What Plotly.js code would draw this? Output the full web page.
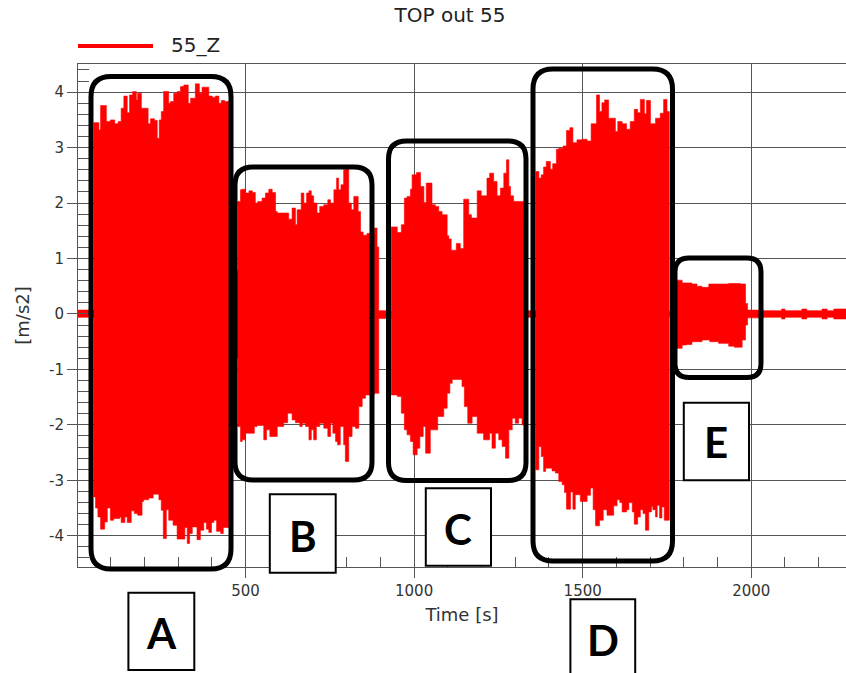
<!DOCTYPE html>
<html><head><meta charset="utf-8">
<script src="https://cdn.plot.ly/plotly-3.0.1.min.js"></script>
<style>html,body{margin:0;padding:0;background:#fff;}#chart{width:846px;height:673px;}</style>
</head><body><div id="chart"></div>
<script>
// ---- data ----
// upper envelope of the 55_Z acceleration signal: time [s] and value [m/s2] (step values)
const upperTime = [0,50,65,70,87,99,112,122,131,139,149,156,165,176,180,191,211,218,230,238,244,250,257,272,277,287,297,307,317,330,337,351,363,371,391,401,411,421,428,438,452,
470,477,485,490,500,510,520,529,536,549,559,569,579,589,594,628,638,648,653,665,673,681,688,695,702,712,720,732,744,752,762,770,776,783,791,798,806,814,821,834,841,849,860,882,890,895,
932,950,962,971,979,989,994,1007,1019,1029,1036,1053,1063,1073,1083,1098,1103,1110,1125,1137,1147,1162,1170,1187,1199,1216,1224,1236,1246,1256,1266,1274,1281,1286,1295,1325,1335,
1361,1370,1377,1384,1392,1404,1411,1422,1429,1442,1452,1462,1471,1483,1498,1513,1525,1541,1550,1557,1565,1577,1597,1604,1617,1630,1641,1653,1663,1671,1683,1689,1701,1716,1730,1740,1750,1757,
1778,1795,1824,1839,1854,1874,1933,1968,1983,1989,2025,2035,2090,2100,2150,2165,2210,2225,2245,2282];
const upperAccel = [0.07,3.45,3.32,3.76,3.47,3.50,3.43,3.47,3.71,3.93,3.63,3.95,4.01,3.86,3.98,3.71,3.43,3.52,3.49,3.17,3.50,3.65,4.01,3.80,3.83,3.98,4.01,4.10,4.13,3.80,3.89,4.15,3.98,4.09,3.93,3.91,3.93,3.80,3.85,3.83,0.06,
0.79,2.03,2.24,2.25,2.18,2.22,2.19,2.00,2.03,2.09,2.18,2.25,2.19,1.85,1.82,1.71,1.91,1.61,1.88,2.18,2.00,2.18,2.22,2.13,2.00,1.82,1.94,1.97,2.06,2.00,2.24,2.45,2.24,2.33,2.60,2.62,2.00,1.88,2.12,1.85,1.48,1.42,1.45,1.55,1.21,0.06,
1.57,1.47,1.61,2.09,2.12,2.25,2.51,2.55,2.30,2.01,2.36,1.97,1.94,1.85,1.79,1.41,1.35,1.15,1.27,1.18,2.07,1.79,1.73,2.22,2.13,2.45,2.54,2.39,2.13,2.27,2.54,2.78,2.30,2.13,2.03,1.64,0.06,
2.57,2.45,2.51,2.65,2.75,2.61,2.71,2.97,2.99,3.03,3.31,3.36,3.09,3.14,3.15,3.12,3.43,3.95,3.65,3.81,3.86,3.53,3.29,3.47,3.43,3.33,3.47,3.69,3.63,3.87,3.61,3.85,3.43,3.53,3.62,3.87,3.65,0.06,
0.61,0.56,0.54,0.50,0.48,0.54,0.55,0.54,0.19,0.07,0.09,0.06,0.09,0.06,0.09,0.06,0.09,0.06,0.09,0.09];
// lower envelope
const lowerTime = [0,50,55,62,70,82,90,99,109,127,131,142,149,161,170,180,193,198,213,226,243,250,256,265,272,285,297,320,327,334,342,356,366,376,384,391,399,406,414,426,434,452,
470,477,485,490,500,526,534,554,562,572,594,613,625,638,648,661,668,678,688,695,702,710,720,732,744,752,759,767,773,781,791,796,806,816,826,836,846,856,882,895,
932,950,962,971,979,989,997,1009,1017,1027,1034,1048,1070,1088,1098,1106,1113,1142,1149,1159,1172,1187,1206,1224,1231,1241,1251,1261,1271,1281,1291,1300,1310,1320,1335,
1361,1370,1377,1384,1390,1409,1419,1429,1439,1446,1452,1464,1471,1478,1493,1513,1523,1531,1538,1550,1561,1572,1592,1602,1610,1617,1630,1637,1647,1653,1663,1671,1679,1686,1696,1704,1708,1716,1721,1728,1735,1742,1757,
1778,1795,1808,1824,1854,1877,1903,1933,1950,1973,1983,1989,2025,2035,2090,2100,2150,2165,2210,2225,2245,2282];
const lowerAccel = [-0.06,-3.30,-3.50,-3.66,-3.88,-3.75,-3.50,-3.72,-3.69,-3.66,-3.76,-3.66,-3.76,-3.55,-3.60,-3.63,-3.38,-3.35,-3.32,-3.25,-3.35,-3.54,-4.05,-3.53,-3.72,-3.81,-4.06,-3.85,-4.14,-3.96,-3.84,-4.07,-3.90,-3.76,-3.88,-3.94,-3.76,-3.72,-3.92,-3.96,-3.85,-0.06,
-0.80,-2.03,-2.30,-2.27,-2.15,-2.03,-2.01,-2.27,-2.09,-2.21,-2.03,-1.96,-1.79,-1.91,-1.96,-2.03,-1.97,-2.03,-2.27,-2.09,-2.27,-2.03,-1.97,-2.06,-2.21,-1.97,-2.15,-2.30,-2.36,-2.03,-2.36,-2.66,-2.21,-2.03,-2.06,-1.67,-1.52,-1.46,-1.43,-0.08,
-1.46,-1.49,-1.79,-2.09,-2.18,-2.30,-2.54,-2.42,-2.21,-2.03,-2.51,-2.09,-1.85,-1.70,-1.43,-1.25,-1.18,-1.31,-1.67,-1.97,-1.85,-2.15,-2.27,-2.15,-2.42,-2.15,-2.27,-2.39,-2.60,-2.09,-1.88,-1.97,-1.88,-2.00,-0.06,
-2.81,-2.39,-2.57,-2.84,-2.78,-2.83,-2.87,-3.02,-3.08,-3.22,-3.52,-3.21,-3.52,-3.26,-3.38,-3.27,-3.14,-3.53,-3.82,-3.72,-3.53,-3.63,-3.46,-3.35,-3.40,-3.57,-3.53,-3.40,-3.57,-3.79,-3.66,-3.53,-3.60,-3.90,-3.57,-3.47,-3.53,-3.66,-3.45,-3.68,-3.48,-3.72,-0.06,
-0.62,-0.56,-0.55,-0.50,-0.47,-0.50,-0.53,-0.58,-0.60,-0.47,-0.20,-0.07,-0.09,-0.06,-0.09,-0.06,-0.09,-0.06,-0.09,-0.06,-0.09,-0.09];

const xTickVals = [500, 1000, 1500, 2000];
const xTickText = ['500', '1000', '1500', '2000'];
const yTickVals = [-4, -3, -2, -1, 0, 1, 2, 3, 4];
const yTickText = ['-4', '-3', '-2', '-1', '0', '1', '2', '3', '4'];
const regionLabels = ['A', 'B', 'C', 'D', 'E'];
const seriesName = '55_Z';
const chartTitle = 'TOP out 55';
const xTitle = 'Time [s]';
const yTitle = '[m/s2]';

// ---- layout geometry (pixels) ----
const W = 846, H = 673;
const PL = 78, PR = 846, PT = 64, PB = 567;
const px = x => (x - PL) / (PR - PL);
const py = y => (PB - y) / (PB - PT);
function roundRect(x0, y0, x1, y1, r) {
  const p = (x, y) => px(x).toFixed(5) + ',' + py(y).toFixed(5);
  return 'M' + p(x0 + r, y0) + ' L' + p(x1 - r, y0) + ' Q' + p(x1, y0) + ' ' + p(x1, y0 + r) +
    ' L' + p(x1, y1 - r) + ' Q' + p(x1, y1) + ' ' + p(x1 - r, y1) +
    ' L' + p(x0 + r, y1) + ' Q' + p(x0, y1) + ' ' + p(x0, y1 - r) +
    ' L' + p(x0, y0 + r) + ' Q' + p(x0, y0) + ' ' + p(x0 + r, y0) + ' Z';
}
const groupBoxes = [
  [91, 76.5, 231, 569, 20],
  [235, 167, 372, 480, 18],
  [388.5, 141, 526, 480.5, 18],
  [533, 69, 672.5, 561, 20],
  [675, 258, 761, 377.5, 14]
];
const labelBoxes = [
  [128.4, 592.7, 194.3, 670],
  [269.8, 494.3, 335.7, 572.7],
  [425.8, 488.3, 491, 565.7],
  [570.4, 599.3, 635.2, 690],
  [683.8, 402.7, 749, 480.3]
];
const labelCenters = [[161.3, 633], [302.7, 536], [458.4, 529], [602.8, 640], [716.4, 442]];

const red = '#ff0000';
const traces = [
  {x: upperTime, y: upperAccel, type: 'scatter', mode: 'lines', name: seriesName,
   line: {shape: 'hv', color: red, width: 0.6}, fill: 'tozeroy', fillcolor: red, showlegend: false, hoverinfo: 'skip'},
  {x: lowerTime, y: lowerAccel, type: 'scatter', mode: 'lines', name: seriesName,
   line: {shape: 'hv', color: red, width: 0.6}, fill: 'tozeroy', fillcolor: red, showlegend: false, hoverinfo: 'skip'}
];

const shapes = [];
groupBoxes.forEach(b => shapes.push({type: 'path', xref: 'paper', yref: 'paper', path: roundRect(b[0], b[1], b[2], b[3], b[4]),
  line: {color: '#000', width: 5}, fillcolor: 'rgba(0,0,0,0)', layer: 'above'}));
labelBoxes.forEach(b => shapes.push({type: 'rect', xref: 'paper', yref: 'paper', x0: px(b[0]), x1: px(b[2]), y0: py(b[3]), y1: py(b[1]),
  line: {color: '#000', width: 2}, fillcolor: '#fff', layer: 'above'}));
// legend sample line
shapes.push({type: 'line', xref: 'paper', yref: 'paper', x0: px(78), x1: px(153), y0: py(46), y1: py(46), line: {color: red, width: 4}});

const annotations = regionLabels.map((t, i) => ({
  text: '<b>' + t + '</b>', xref: 'paper', yref: 'paper', x: px(labelCenters[i][0]), y: py(labelCenters[i][1]),
  xanchor: 'center', yanchor: 'middle', showarrow: false,
  font: {family: 'Lato, "Liberation Sans", sans-serif', size: 42, color: '#000'}
}));
annotations.push({text: seriesName, xref: 'paper', yref: 'paper', x: px(169), y: py(45), xanchor: 'left', yanchor: 'middle',
  showarrow: false, font: {family: '"DejaVu Sans"', size: 20, color: '#222'}});

const axisFont = {family: '"DejaVu Sans"', size: 15, color: '#333'};
const layout = {
  width: W, height: H,
  margin: {l: PL, r: W - PR, t: PT, b: H - PB, pad: 0},
  paper_bgcolor: '#fff', plot_bgcolor: '#fff',
  showlegend: false,
  title: {text: chartTitle, font: {family: '"DejaVu Sans"', size: 20, color: '#222'},
          xref: 'container', yref: 'container', x: 450 / W, y: 1 - 15 / H, xanchor: 'center', yanchor: 'middle'},
  xaxis: {
    range: [3, 2281], tickmode: 'array', tickvals: xTickVals, ticktext: xTickText,
    ticks: 'outside', ticklen: 10, tickcolor: '#555', tickwidth: 1,
    minor: {dtick: 100, tick0: 0, ticks: 'inside', ticklen: 10, tickcolor: '#555', tickwidth: 1, showgrid: false},
    showgrid: true, gridcolor: '#555', gridwidth: 1, zeroline: false,
    showline: true, linecolor: '#555', linewidth: 1, mirror: true,
    tickfont: axisFont,
    title: {text: xTitle, font: {family: '"DejaVu Sans"', size: 18, color: '#333'}, standoff: 9}
  },
  yaxis: {
    range: [-4.563, 4.508], tickmode: 'array', tickvals: yTickVals, ticktext: yTickText,
    ticks: 'outside', ticklen: 10, tickcolor: '#555', tickwidth: 1,
    minor: {dtick: 0.2, tick0: 0, ticks: 'inside', ticklen: 11, tickcolor: '#555', tickwidth: 1, showgrid: false},
    showgrid: true, gridcolor: '#555', gridwidth: 1, zeroline: true, zerolinecolor: '#555', zerolinewidth: 1,
    showline: true, linecolor: '#555', linewidth: 1,
    tickfont: axisFont,
    title: {text: yTitle, font: {family: '"DejaVu Sans"', size: 18, color: '#333'}, standoff: 14}
  },
  shapes: shapes,
  annotations: annotations
};
Plotly.newPlot('chart', traces, layout, {staticPlot: true, displayModeBar: false});
</script></body></html>
